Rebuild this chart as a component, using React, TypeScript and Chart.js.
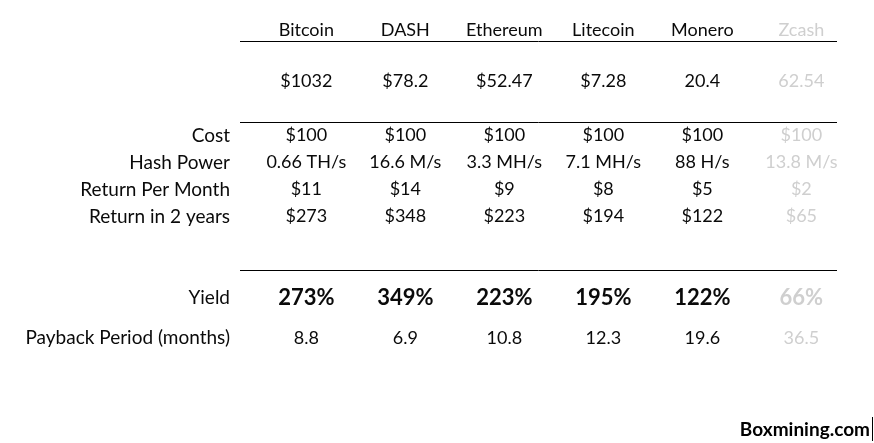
import React, { useEffect, useRef } from "react";
import { Chart, registerables } from "chart.js";

Chart.register(...registerables);

// ---- data ----
const COINS = ["Bitcoin", "DASH", "Ethereum", "Litecoin", "Monero", "Zcash"];
const MUTED_COIN = "Zcash";
const PRICES = ["$1032", "$78.2", "$52.47", "$7.28", "20.4", "62.54"];
const COST = [100, 100, 100, 100, 100, 100];
const HASH_POWER = ["0.66 TH/s", "16.6 M/s", "3.3 MH/s", "7.1 MH/s", "88 H/s", "13.8 M/s"];
const RETURN_PER_MONTH = [11, 14, 9, 8, 5, 2];
const RETURN_2_YEARS = [273, 348, 223, 194, 122, 65];
const YIELD_PCT = [273, 349, 223, 195, 122, 66];
const PAYBACK_MONTHS = [8.8, 6.9, 10.8, 12.3, 19.6, 36.5];
// half-height sheet rows; empty strings are spacer rows
const ROW_LABELS = [
  "", "", "", "", "", "", "",
  "Cost",
  "",
  "Hash Power",
  "",
  "Return Per Month",
  "",
  "Return in 2 years",
  "", "", "", "", "",
  "Yield",
  "", "",
  "Payback Period (months)",
];
const PRICE_ROW = 3;
const SEPARATOR_ROWS = [0, 6, 17];
const SOURCE = "Boxmining.com";

// ---- style ----
const FONT = "Lato, 'Open Sans', sans-serif";
const INK = "#0a0a0a";
const MUTED = "#cfcfcf";

const usd = (v: number) => "$" + v;

const ROWS = [
  { row: PRICE_ROW, texts: PRICES, bold: false },
  { row: ROW_LABELS.indexOf("Cost"), texts: COST.map(usd), bold: false },
  { row: ROW_LABELS.indexOf("Hash Power"), texts: HASH_POWER, bold: false },
  { row: ROW_LABELS.indexOf("Return Per Month"), texts: RETURN_PER_MONTH.map(usd), bold: false },
  { row: ROW_LABELS.indexOf("Return in 2 years"), texts: RETURN_2_YEARS.map(usd), bold: false },
  { row: ROW_LABELS.indexOf("Yield"), texts: YIELD_PCT.map((v) => v + "%"), bold: true },
  { row: ROW_LABELS.indexOf("Payback Period (months)"), texts: PAYBACK_MONTHS.map((v) => v.toFixed(1)), bold: false },
];

const cellTextPlugin = {
  id: "cellText",
  afterDatasetsDraw(chart: any) {
    const ctx = chart.ctx;
    chart.data.datasets.forEach((ds: any, di: number) => {
      const meta = chart.getDatasetMeta(di);
      meta.data.forEach((el: any, j: number) => {
        ctx.save();
        ctx.font = ds.bold ? `bold 22px ${FONT}` : `18px ${FONT}`;
        ctx.fillStyle = COINS[j] === MUTED_COIN ? MUTED : INK;
        ctx.textAlign = "center";
        ctx.textBaseline = "middle";
        ctx.fillText(ds.texts[j], el.x, el.y);
        ctx.restore();
      });
    });
  },
  afterDraw(chart: any) {
    const ctx = chart.ctx;
    const w = chart.width;
    const h = chart.height;
    ctx.save();
    ctx.font = `bold 19px ${FONT}`;
    ctx.fillStyle = "#000";
    ctx.textAlign = "right";
    ctx.textBaseline = "middle";
    ctx.fillText(SOURCE, w - 4, h - 13);
    ctx.strokeStyle = "#000";
    ctx.lineWidth = 1;
    ctx.beginPath();
    ctx.moveTo(w - 1.5, h - 26);
    ctx.lineTo(w - 1.5, h - 2);
    ctx.stroke();
    ctx.restore();
  },
};

export default function App() {
  const ref = useRef<HTMLCanvasElement | null>(null);

  useEffect(() => {
    document.body.style.margin = "0";
    const canvas = ref.current;
    if (!canvas) return;
    const chart = new Chart(canvas, {
      type: "scatter",
      data: {
        datasets: ROWS.map((r) => ({
          label: ROW_LABELS[r.row] || "Price",
          data: r.texts.map((_, i) => ({ x: i, y: r.row })),
          texts: r.texts,
          bold: r.bold,
          pointRadius: 0,
          pointHoverRadius: 0,
        })) as any,
      },
      options: {
        animation: false,
        responsive: false,
        parsing: false,
        events: [],
        layout: { padding: { top: 0, left: 0, right: 37, bottom: 105 } },
        plugins: {
          legend: { display: false },
          tooltip: { enabled: false },
        },
        scales: {
          x: {
            type: "linear",
            position: "top",
            min: -0.67,
            max: 5.36,
            afterFit: (scale: any) => {
              scale.height = 41;
            },
            grid: { display: false, drawTicks: false },
            border: { display: false },
            ticks: {
              stepSize: 1,
              includeBounds: false,
              autoSkip: false,
              maxRotation: 0,
              padding: 1,
              font: { family: FONT, size: 18, lineHeight: 1.1 },
              color: (c: any) => (COINS[c.tick?.value] === MUTED_COIN ? MUTED : INK),
              callback: (v: any) => COINS[v] ?? "",
            },
          },
          y: {
            type: "category",
            labels: ROW_LABELS,
            position: "left",
            offset: false,
            afterFit: (scale: any) => {
              scale.width = 240;
            },
            grid: {
              display: true,
              drawTicks: false,
              offset: false,
              lineWidth: 1,
              color: (c: any) => (SEPARATOR_ROWS.includes(c.index) ? "#000" : "rgba(0,0,0,0)"),
            },
            border: { display: false },
            ticks: {
              autoSkip: false,
              padding: 10,
              font: { family: FONT, size: 19 },
              color: INK,
            },
          },
        },
      } as any,
      plugins: [cellTextPlugin],
    });
    return () => chart.destroy();
  }, []);

  return (
    <div style={{ width: 874, height: 443, background: "#fff" }}>
      <canvas ref={ref} width={874} height={443} style={{ display: "block" }} />
    </div>
  );
}
